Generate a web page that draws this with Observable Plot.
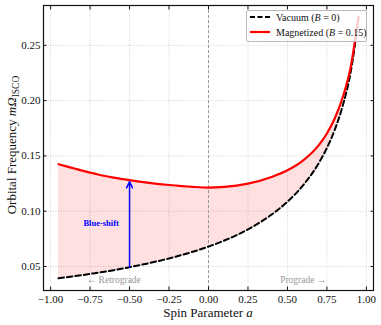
<!DOCTYPE html>
<html><head><meta charset="utf-8">
<script src="https://cdn.jsdelivr.net/npm/d3@7"></script>
<script src="https://cdn.jsdelivr.net/npm/@observablehq/plot@0.6"></script>
<style>
body{margin:0;background:#fff;}
#wrap{width:381px;height:325px;}
</style></head><body><div id="wrap"></div>
<script>
// Spin parameter samples and the two ISCO frequency curves
const spin =       [-0.95, -0.9, -0.85, -0.8, -0.75, -0.7, -0.6, -0.5, -0.4, -0.25, -0.1, 0, 0.1, 0.25, 0.4, 0.5, 0.6, 0.7, 0.75, 0.8, 0.85, 0.9, 0.95];
const vacuum =     [0.0393, 0.0403, 0.0412, 0.0422, 0.0433, 0.0444, 0.0467, 0.0494, 0.0523, 0.0573, 0.0633, 0.0680, 0.0735, 0.0836, 0.0970, 0.1086, 0.1236, 0.1439, 0.1572, 0.1738, 0.1953, 0.2254, 0.2743];
const magnetized = [0.1425, 0.1405, 0.1386, 0.1367, 0.1349, 0.1332, 0.1304, 0.1281, 0.1261, 0.1237, 0.1220, 0.1214, 0.1220, 0.1250, 0.1310, 0.1370, 0.1460, 0.1600, 0.1703, 0.1840, 0.2030, 0.2300, 0.2760];

const xTicks = [-1, -0.75, -0.5, -0.25, 0, 0.25, 0.5, 0.75, 1];
const yTicks = [0.05, 0.10, 0.15, 0.20, 0.25];
const zeroLine = [0];

const arrowSpin = [-0.5];
const arrowFrom = [0.0494];
const arrowTo = [0.1268];

const noteSpin = [-0.68];
const noteValue = [0.089];
const noteText = ["Blue-shift"];

const sideSpin = [-0.6, 0.6];
const sideValue = [0.038, 0.038];
const sideText = ["\u2190 Retrograde", "Prograde \u2192"];

const legendNames = ["Vacuum (", "Magnetized ("];
const legendValues = [" = 0)", " = 0.15)"];

const data = spin.map((a, i) => ({a, vac: vacuum[i], mag: magnetized[i]}));
const arrows = arrowSpin.map((a, i) => ({a, from: arrowFrom[i], to: arrowTo[i]}));
const notes = noteSpin.map((a, i) => ({a, v: noteValue[i], t: noteText[i]}));
const sides = sideSpin.map((a, i) => ({a, v: sideValue[i], t: sideText[i]}));
const fmt = d3.format(".2f");

const chart = Plot.plot({
  width: 381, height: 325,
  marginLeft: 43, marginRight: 8, marginTop: 5, marginBottom: 35,
  style: {fontFamily: '"Liberation Serif", "Times New Roman", serif', fontSize: "11px", color: "#111", background: "white"},
  x: {domain: [-1.045, 1.045]},
  y: {domain: [0.0283, 0.286]},
  marks: [
    Plot.gridX(xTicks, {stroke: "#999", strokeOpacity: 0.5, strokeDasharray: "1,1.5", strokeWidth: 0.8}),
    Plot.gridY(yTicks, {stroke: "#999", strokeOpacity: 0.5, strokeDasharray: "1,1.5", strokeWidth: 0.8}),
    Plot.areaY(data, {x: "a", y1: "vac", y2: "mag", fill: "red", fillOpacity: 0.12, curve: "monotone-x"}),
    Plot.ruleX(zeroLine, {stroke: "#999", strokeDasharray: "3,2", strokeWidth: 1}),
    Plot.line(data, {x: "a", y: "vac", stroke: "black", strokeWidth: 2, strokeDasharray: "5.5,3", curve: "monotone-x"}),
    Plot.line(data, {x: "a", y: "mag", stroke: "red", strokeWidth: 2.2, curve: "monotone-x"}),
    Plot.arrow(arrows, {x1: "a", x2: "a", y1: "from", y2: "to", stroke: "blue", strokeWidth: 1.5, headLength: 7, headAngle: 50}),
    Plot.text(notes, {x: "a", y: "v", text: "t", fill: "blue", fontWeight: "bold", fontSize: 8.5}),
    Plot.text(sides, {x: "a", y: "v", text: "t", fill: "#999", fontSize: 9.5}),
    Plot.axisX(xTicks, {anchor: "bottom", tickSize: -3.5, tickPadding: 7.7, tickFormat: fmt, label: null, fontSize: 11}),
    Plot.axisX(xTicks, {anchor: "top", tickSize: -3.5, tickFormat: () => "", label: null}),
    Plot.axisY(yTicks, {anchor: "left", tickSize: -3.5, tickPadding: 6.5, tickFormat: fmt, label: null, fontSize: 11}),
    Plot.axisY(yTicks, {anchor: "right", tickSize: -3.5, tickFormat: () => "", label: null}),
    Plot.frame({stroke: "#111", strokeWidth: 1.2})
  ]
});

const svg = d3.select(chart);
// axis labels
const xl = svg.append("text").attr("x", 208).attr("y", 317).attr("text-anchor", "middle").attr("font-size", 13).attr("fill", "#111");
xl.append("tspan").text("Spin Parameter ");
xl.append("tspan").attr("font-style", "italic").text("a");

const yl = svg.append("text").attr("transform", "translate(16,145) rotate(-90)").attr("text-anchor", "middle").attr("font-size", 13).attr("fill", "#111");
yl.append("tspan").text("Orbital Frequency ");
yl.append("tspan").attr("font-style", "italic").text("m\u03A9");
yl.append("tspan").attr("font-size", 9.5).attr("dy", 3).text("ISCO");

// legend
const lg = svg.append("g");
lg.append("rect").attr("x", 246.5).attr("y", 10.5).attr("width", 120).attr("height", 31)
  .attr("fill", "white").attr("fill-opacity", 0.8).attr("stroke", "#bbb").attr("rx", 1.5);
lg.append("line").attr("x1", 250).attr("x2", 270).attr("y1", 17).attr("y2", 17)
  .attr("stroke", "black").attr("stroke-width", 2).attr("stroke-dasharray", "5,2.5");
lg.append("line").attr("x1", 250).attr("x2", 270).attr("y1", 32).attr("y2", 32)
  .attr("stroke", "red").attr("stroke-width", 2.2);
[17, 32].forEach((y, i) => {
  const t = lg.append("text").attr("x", 276).attr("y", y + 3.5).attr("text-anchor", "start")
    .attr("font-size", 10).attr("fill", "#111");
  t.append("tspan").text(legendNames[i]);
  t.append("tspan").attr("font-style", "italic").text("B");
  t.append("tspan").text(legendValues[i]);
});

document.getElementById("wrap").appendChild(chart);
</script>
</body></html>
